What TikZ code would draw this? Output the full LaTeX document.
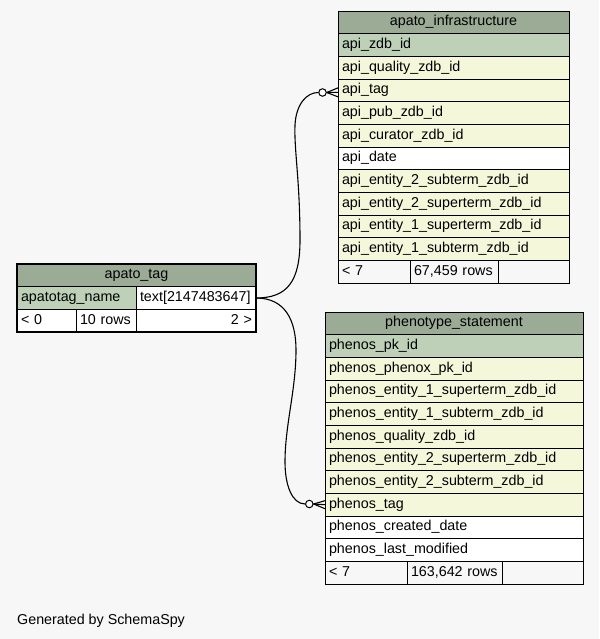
\documentclass[tikz,border=0pt]{standalone}
\usepackage{fontspec}
\setmainfont{Liberation Sans}
\definecolor{bgcol}{HTML}{F7F7F7}
\definecolor{titlecol}{HTML}{9BAB96}
\definecolor{pkcol}{HTML}{BED1B8}
\definecolor{rowcol}{HTML}{F4F7DA}
\tikzset{
  cell/.style={draw, line width=0.8pt, anchor=north west, inner xsep=4pt, inner ysep=0pt, outer sep=0pt,
    minimum height=22.67pt, text height=10pt, text depth=3pt, font=\fontsize{14.3}{16}\selectfont},
  lcell/.style={cell, align=left, text width=#1},
  ccell/.style={cell, align=center, text width=#1},
  rcell/.style={cell, align=right, text width=#1},
  dot/.style={circle, draw, line width=1pt, fill=white, inner sep=0pt, minimum size=7.5pt},
  link/.style={line width=1.1pt},
}
\begin{document}
\begin{tikzpicture}[x=1pt,y=-1pt]
  \fill[bgcol] (0,0) rectangle (599,639);
  \useasboundingbox (0,0) rectangle (599,639);

  % apato_infrastructure
  \node[ccell=223pt, fill=titlecol] (inftitle) at (338,11) {apato\_infrastructure};
  \foreach \txt/\fc [count=\i] in {api\_zdb\_id/pkcol, api\_quality\_zdb\_id/rowcol,
      api\_tag/rowcol, api\_pub\_zdb\_id/rowcol, api\_curator\_zdb\_id/rowcol, api\_date/white,
      api\_entity\_2\_subterm\_zdb\_id/rowcol, api\_entity\_2\_superterm\_zdb\_id/rowcol,
      api\_entity\_1\_superterm\_zdb\_id/rowcol, api\_entity\_1\_subterm\_zdb\_id/rowcol}
    \node[lcell=223pt, fill=\fc] (inf\i) at (338,{11+\i*22.67}) {\txt};
  \node[lcell=64pt, fill=bgcol] (inffoot1) at (338,{11+11*22.67}) {< 7};
  \node[lcell=80pt, fill=bgcol] (inffoot2) at (inffoot1.north east) {67,459 rows};
  \node[lcell=63pt, fill=bgcol] (inffoot3) at (inffoot2.north east) {};

  % phenotype_statement
  \node[ccell=250pt, fill=titlecol] (phstitle) at (325,312) {phenotype\_statement};
  \foreach \txt/\fc [count=\i] in {phenos\_pk\_id/pkcol, phenos\_phenox\_pk\_id/rowcol,
      phenos\_entity\_1\_superterm\_zdb\_id/rowcol, phenos\_entity\_1\_subterm\_zdb\_id/rowcol,
      phenos\_quality\_zdb\_id/rowcol, phenos\_entity\_2\_superterm\_zdb\_id/rowcol,
      phenos\_entity\_2\_subterm\_zdb\_id/rowcol, phenos\_tag/rowcol,
      phenos\_created\_date/white, phenos\_last\_modified/white}
    \node[lcell=250pt, fill=\fc] (phs\i) at (325,{312+\i*22.67}) {\txt};
  \node[lcell=74pt, fill=bgcol] (phsfoot1) at (325,{312+11*22.67}) {< 7};
  \node[lcell=87pt, fill=bgcol] (phsfoot2) at (phsfoot1.north east) {163,642 rows};
  \node[lcell=73pt, fill=bgcol] (phsfoot3) at (phsfoot2.north east) {};

  % apato_tag
  \node[ccell=231pt, fill=titlecol] (tagtitle) at (17,264) {apato\_tag};
  \node[lcell=111pt, fill=pkcol] (tagname) at (17,286.67) {apatotag\_name};
  \node[lcell=112pt, fill=white] (tagtype) at (tagname.north east) {text[2147483647]};
  \node[lcell=51pt, fill=white] (tagfoot1) at (17,309.33) {< 0};
  \node[lcell=52pt, fill=white] (tagfoot2) at (tagfoot1.north east) {10 rows};
  \node[rcell=112pt, fill=white] (tagfoot3) at (tagfoot2.north east) {2 >};
  \draw[line width=2.6pt] (tagtitle.north west) rectangle (tagfoot3.south east);

  % relationships
  \node[dot] (dot1) at (322.5,92.5) {};
  \node[dot] (dot2) at (309.3,504) {};
  \draw[link] (tagtype.east) .. controls (287,298) and (300,282) .. (300,240)
    .. controls (300,180) and (294,150) .. (295,125)
    .. controls (296,105) and (306,92.5) .. (dot1.west);
  \draw[link] (tagtype.east) .. controls (285,298) and (296,320) .. (296,350)
    .. controls (296,390) and (285,425) .. (285,462)
    .. controls (285,485) and (292,504) .. (dot2.west);
  \draw[link] (dot1.east) -- ([yshift=2.5pt]inf3.west);
  \draw[link] (dot1.east) -- ([yshift=-2pt]inf3.west);
  \draw[link] (dot1.east) -- ([yshift=-6.5pt]inf3.west);
  \draw[link] (dot2.east) -- ([yshift=4pt]phs8.west);
  \draw[link] (dot2.east) -- (phs8.west);
  \draw[link] (dot2.east) -- ([yshift=-4pt]phs8.west);

  \node[anchor=base west, inner sep=0pt, font=\fontsize{14.3}{16}\selectfont] (gen) at (17,624) {Generated by SchemaSpy};
\end{tikzpicture}
\end{document}
